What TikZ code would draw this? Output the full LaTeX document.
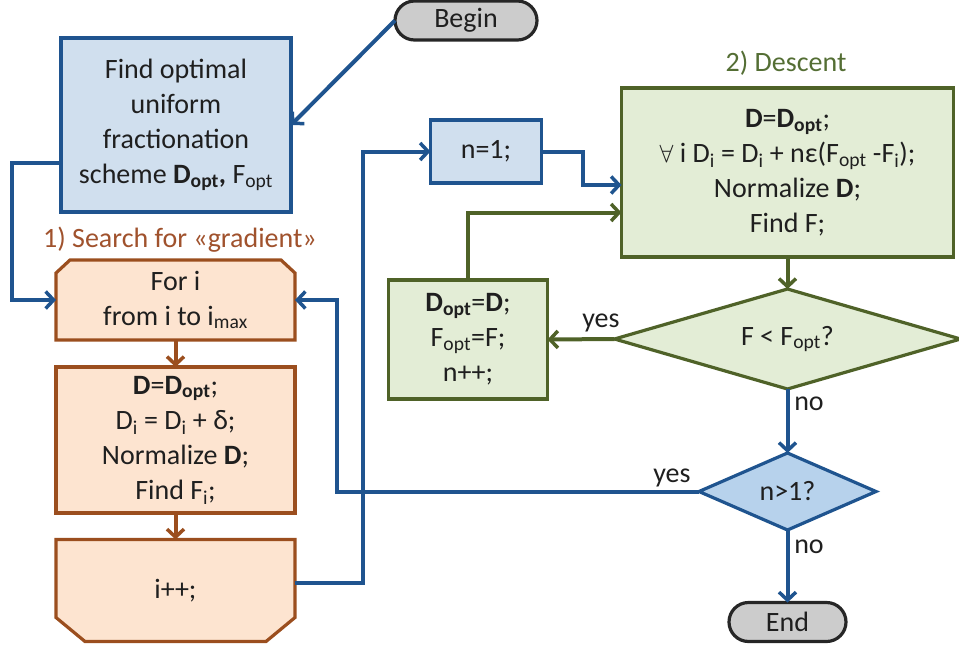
\documentclass[tikz,border=0pt]{standalone}
\usepackage{fontspec}
\setmainfont{Carlito}
\usetikzlibrary{arrows.meta,shapes.geometric,shapes.misc,backgrounds}
\definecolor{bblue}{RGB}{31,84,143}
\definecolor{lblue}{RGB}{208,223,238}
\definecolor{mblue}{RGB}{183,210,236}
\definecolor{dbrown}{RGB}{155,78,30}
\definecolor{lorange}{RGB}{253,228,208}
\definecolor{dgreen}{RGB}{79,98,40}
\definecolor{lgreen}{RGB}{227,237,214}
\definecolor{tgreen}{RGB}{84,110,52}
\definecolor{tbrown}{RGB}{160,82,45}
\begin{document}
\begin{tikzpicture}[x=1pt,y=-1pt,
  font=\fontsize{28}{35}\selectfont,
  base/.style={inner sep=0pt, outer sep=0pt, align=center, text=black!88, line width=3.2pt},
  bluebox/.style={base, rectangle, draw=bblue, fill=lblue},
  greenbox/.style={base, rectangle, draw=dgreen, fill=lgreen},
  brownshape/.style={draw=dbrown, fill=lorange, line width=3.2pt},
  term/.style={base, rounded rectangle, draw=black!85, fill=gray!40},
  decision/.style={base, diamond, shape aspect=3},
  lbl/.style={inner sep=0pt, text=black!88},
  arr/.style={line width=4pt, -{Straight Barb[length=8pt,width=17pt,line width=3.5pt]}},
  line join=miter]
\useasboundingbox (0,0) rectangle (959,646);

% nodes
\node[term, minimum width=142pt, minimum height=39pt] (begin) at (466,20.5) {Begin};
\node[bluebox, minimum width=230pt, minimum height=174pt] (find) at (176,125)
  {Find optimal\\uniform\\fractionation\\scheme \textbf{D\textsubscript{opt},} F\textsubscript{opt}};
\node[lbl, text=tbrown] (search) at (180,240) {1) Search for «gradient»};
\node[base, rectangle, minimum width=239pt, minimum height=80pt] (fori) at (175.5,300)
  {For i\\from i to i\textsubscript{max}};
\node[base, rectangle, draw=dbrown, fill=lorange, minimum width=239pt, minimum height=146pt] (dbox) at (175.5,440)
  {\textbf{D}=\textbf{D\textsubscript{opt}};\\D\textsubscript{i} = D\textsubscript{i} + δ;\\Normalize \textbf{D};\\Find F\textsubscript{i};};
\node[base, rectangle, minimum width=239pt, minimum height=102pt] (ipp) at (175.5,590.5) {i++;};
\node[bluebox, minimum width=111pt, minimum height=63pt] (n1) at (486,151.5) {n=1;};
\node[lbl, text=tgreen] (descent) at (786,63) {2) Descent};
\node[greenbox, minimum width=332pt, minimum height=169pt] (green) at (787.5,172.5)
  {\textbf{D}=\textbf{D\textsubscript{opt}};\\$\forall$ i D\textsubscript{i} = D\textsubscript{i} + nε(F\textsubscript{opt} -F\textsubscript{i});\\Normalize \textbf{D};\\Find F;};
\node[greenbox, minimum width=159pt, minimum height=119pt] (dopt) at (468,339.5)
  {\textbf{D\textsubscript{opt}}=\textbf{D};\\F\textsubscript{opt}=F;\\n++;};
\node[decision, draw=dgreen, fill=lgreen, minimum width=346pt, minimum height=100pt] (d1) at (787.5,339)
  {F < F\textsubscript{opt}?};
\node[decision, draw=bblue, fill=mblue, minimum width=177pt, minimum height=77pt] (d2) at (787.5,491.5) {n>1?};
\node[term, minimum width=117pt, minimum height=39pt] (end) at (787.5,622) {End};

% chamfered shapes
\begin{scope}[on background layer]
\draw[brownshape] (fori.south west) -- ([yshift=-13pt]fori.north west) -- ([xshift=14pt]fori.north west)
  -- ([xshift=-14pt]fori.north east) -- ([yshift=-13pt]fori.north east) -- (fori.south east) -- cycle;
\draw[brownshape] (ipp.north west) -- ([yshift=24pt]ipp.south west) -- ([xshift=29pt]ipp.south west)
  -- ([xshift=-29pt]ipp.south east) -- ([yshift=24pt]ipp.south east) -- (ipp.north east) -- cycle;
\end{scope}

% connectors
\draw[arr, bblue] (begin.west) -- (find.east);
\draw[arr, bblue] ([yshift=-38pt]find.west) -| ([xshift=-44pt]fori.west) -- (fori.west);
\draw[arr, dbrown] (fori.south) -- (dbox.north);
\draw[arr, dbrown] (dbox.south) -- (ipp.north);
\draw[arr, bblue] ([yshift=7.5pt]ipp.east) -| ([xshift=-68pt]n1.west) -- (n1.west);
\draw[arr, bblue] (n1.east) -| ([xshift=-39pt,yshift=-12.5pt]green.west) -- ([yshift=-12.5pt]green.west);
\draw[arr, dgreen] (green.south) -- (d1.north);
\draw[arr, dgreen] (d1.west) -- (dopt.east);
\draw[arr, dgreen] (dopt.north) |- ([yshift=-40pt]green.west);
\draw[arr, bblue] (d1.south) -- (d2.north);
\draw[arr, bblue] (d2.west) -| ([xshift=42pt]fori.east) -- (fori.east);
\draw[arr, bblue] (d2.south) -- (end.north);

% labels
\node[lbl] (yes1) at (601,323) {yes};
\node[lbl] (no1) at (809,404) {no};
\node[lbl] (yes2) at (672,478) {yes};
\node[lbl] (no2) at (809,547) {no};
\end{tikzpicture}
\end{document}
